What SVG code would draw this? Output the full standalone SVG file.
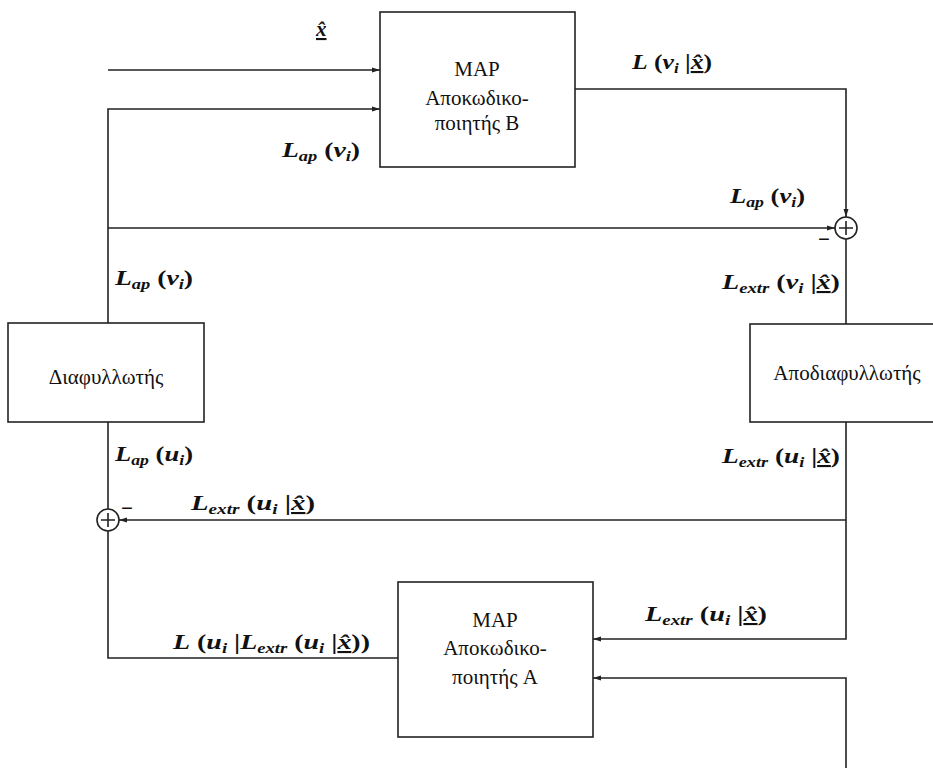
<svg xmlns="http://www.w3.org/2000/svg" width="933" height="768" viewBox="0 0 933 768">
<defs>
<style>
.ln{fill:none;stroke:#222;stroke-width:1.6}
.box{fill:#fff;stroke:#222;stroke-width:1.6}
.bt{font-size:21px;fill:#111;text-anchor:middle}
.m{font-size:21px;font-weight:bold;fill:#111}
.i{font-style:italic}
.s{font-size:14px;font-style:italic}
.u{text-decoration:underline}
</style>
<marker id="ar" viewBox="0 0 8 6" refX="8" refY="3" markerWidth="8" markerHeight="6" markerUnits="userSpaceOnUse" orient="auto">
<path d="M0,0.5 L8,3 L0,5.5 Z" fill="#222"/>
</marker>
</defs>
<rect width="933" height="768" fill="#fff"/>

<g id="connectors">
<path class="ln" d="M108,70 H380" marker-end="url(#ar)"/>
<path class="ln" d="M108,323 V109 H380" marker-end="url(#ar)"/>
<path class="ln" d="M108,228 H835" marker-end="url(#ar)"/>
<path class="ln" d="M575,89 H846 V217" marker-end="url(#ar)"/>
<path class="ln" d="M846,239 V324"/>
<path class="ln" d="M846,422 V639 H593" marker-end="url(#ar)"/>
<path class="ln" d="M846,520 H119" marker-end="url(#ar)"/>
<path class="ln" d="M846,768 V678 H593" marker-end="url(#ar)"/>
<path class="ln" d="M398,658 H108 V531"/>
<path class="ln" d="M108,509 V422"/>
</g>

<g font-family="'Liberation Serif', 'Times New Roman', 'Noto Serif', 'DejaVu Serif', serif">
<g id="sumR">
<circle class="ln" cx="846" cy="228" r="11"/>
<path class="ln" d="M839,228 H853 M846,221 V235"/>
<text class="m" x="818" y="246">−</text>
</g>
<g id="sumL">
<circle class="ln" cx="108" cy="520" r="11"/>
<path class="ln" d="M101,520 H115 M108,513 V527"/>
<text class="m" x="121" y="515">−</text>
</g>

<g id="decB">
<rect class="box" x="380" y="12" width="195" height="155"/>
<text class="bt" x="477" y="76">MAP</text>
<text class="bt" x="477" y="105">Αποκωδικο-</text>
<text class="bt" x="477" y="130">ποιητής B</text>
</g>
<g id="decA">
<rect class="box" x="398" y="582" width="195" height="155"/>
<text class="bt" x="495" y="627">MAP</text>
<text class="bt" x="495" y="655">Αποκωδικο-</text>
<text class="bt" x="495" y="684">ποιητής A</text>
</g>
<g id="interleaver">
<rect class="box" x="8" y="323" width="196" height="99"/>
<text class="bt" x="106" y="384">Διαφυλλωτής</text>
</g>
<g id="deinterleaver">
<rect class="box" x="750" y="324" width="190" height="98"/>
<text class="bt" x="847" y="380">Αποδιαφυλλωτής</text>
</g>

<g id="labels">
<text class="m" x="316" y="36"><tspan class="i u">x̂</tspan></text>
<text class="m" x="632" y="69" textLength="80" lengthAdjust="spacingAndGlyphs"><tspan class="i">L</tspan> (<tspan class="i">v</tspan><tspan class="s" dy="4">i</tspan><tspan dy="-4"> |</tspan><tspan class="i u">x̂</tspan>)</text>
<text class="m" x="282" y="157" textLength="78" lengthAdjust="spacingAndGlyphs"><tspan class="i">L</tspan><tspan class="s" dy="4">ap</tspan><tspan dy="-4"> (</tspan><tspan class="i">v</tspan><tspan class="s" dy="4">i</tspan><tspan dy="-4">)</tspan></text>
<text class="m" x="730" y="203" textLength="75" lengthAdjust="spacingAndGlyphs"><tspan class="i">L</tspan><tspan class="s" dy="4">ap</tspan><tspan dy="-4"> (</tspan><tspan class="i">v</tspan><tspan class="s" dy="4">i</tspan><tspan dy="-4">)</tspan></text>
<text class="m" x="722" y="289" textLength="118" lengthAdjust="spacingAndGlyphs"><tspan class="i">L</tspan><tspan class="s" dy="4">extr</tspan><tspan dy="-4"> (</tspan><tspan class="i">v</tspan><tspan class="s" dy="4">i</tspan><tspan dy="-4"> |</tspan><tspan class="i u">x̂</tspan>)</text>
<text class="m" x="115" y="285" textLength="78" lengthAdjust="spacingAndGlyphs"><tspan class="i">L</tspan><tspan class="s" dy="4">ap</tspan><tspan dy="-4"> (</tspan><tspan class="i">v</tspan><tspan class="s" dy="4">i</tspan><tspan dy="-4">)</tspan></text>
<text class="m" x="115" y="461" textLength="78" lengthAdjust="spacingAndGlyphs"><tspan class="i">L</tspan><tspan class="s" dy="4">ap</tspan><tspan dy="-4"> (</tspan><tspan class="i">u</tspan><tspan class="s" dy="4">i</tspan><tspan dy="-4">)</tspan></text>
<text class="m" x="191" y="510" textLength="124" lengthAdjust="spacingAndGlyphs"><tspan class="i">L</tspan><tspan class="s" dy="4">extr</tspan><tspan dy="-4"> (</tspan><tspan class="i">u</tspan><tspan class="s" dy="4">i</tspan><tspan dy="-4"> |</tspan><tspan class="i u">x̂</tspan>)</text>
<text class="m" x="722" y="463" textLength="118" lengthAdjust="spacingAndGlyphs"><tspan class="i">L</tspan><tspan class="s" dy="4">extr</tspan><tspan dy="-4"> (</tspan><tspan class="i">u</tspan><tspan class="s" dy="4">i</tspan><tspan dy="-4"> |</tspan><tspan class="i u">x̂</tspan>)</text>
<text class="m" x="645" y="621" textLength="122" lengthAdjust="spacingAndGlyphs"><tspan class="i">L</tspan><tspan class="s" dy="4">extr</tspan><tspan dy="-4"> (</tspan><tspan class="i">u</tspan><tspan class="s" dy="4">i</tspan><tspan dy="-4"> |</tspan><tspan class="i u">x̂</tspan>)</text>
<text class="m" x="173" y="649" textLength="197" lengthAdjust="spacingAndGlyphs"><tspan class="i">L</tspan> (<tspan class="i">u</tspan><tspan class="s" dy="4">i</tspan><tspan dy="-4"> |</tspan><tspan class="i">L</tspan><tspan class="s" dy="4">extr</tspan><tspan dy="-4"> (</tspan><tspan class="i">u</tspan><tspan class="s" dy="4">i</tspan><tspan dy="-4"> |</tspan><tspan class="i u">x̂</tspan>))</text>
</g>
</g>
</svg>
